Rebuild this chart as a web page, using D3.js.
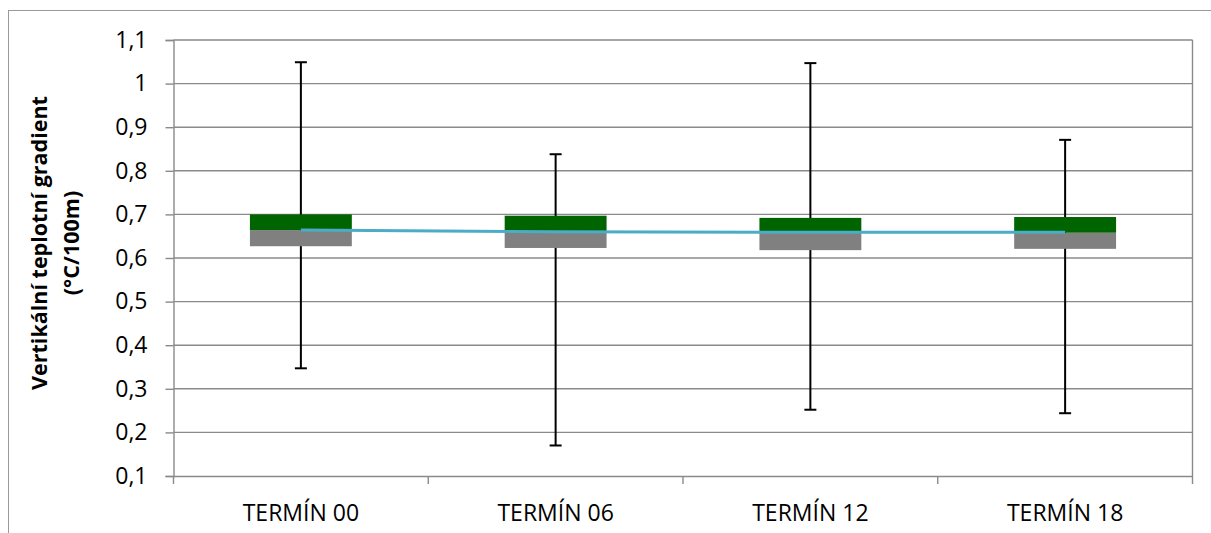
<!DOCTYPE html>
<html>
<head>
<meta charset="utf-8">
<script src="https://cdn.jsdelivr.net/npm/d3@7"></script>
<style>
  html, body { margin: 0; padding: 0; background: #fff; }
  svg { display: block; font-family: 'Open Sans', sans-serif; }
</style>
</head>
<body>
<div id="chart"></div>
<script>
(() => {
'use strict';

// box plot per observation term: min, Q1, median, Q3, max, mean
const TERMS = ['TERMÍN 00', 'TERMÍN 06', 'TERMÍN 12', 'TERMÍN 18'];
const MINS = [0.347, 0.170, 0.252, 0.244];
const Q1S = [0.627, 0.623, 0.618, 0.621];
const MEDIANS = [0.664, 0.661, 0.658, 0.658];
const Q3S = [0.700, 0.697, 0.692, 0.694];
const MAXS = [1.049, 0.838, 1.047, 0.871];
const MEANS = [0.664, 0.660, 0.659, 0.659];
const Y_TICKS = [0.1, 0.2, 0.3, 0.4, 0.5, 0.6, 0.7, 0.8, 0.9, 1.0, 1.1];
const Y_TITLE = ['Vertikální teplotní gradient', '(°C/100m)'];

const WIDTH = 1211;
const HEIGHT = 533;
const PLOT = { left: 173.5, right: 1192.5, top: 40, bottom: 476 };
const GRID = '#8a8a8a';
const BOX_LOW = '#808080';
const BOX_HIGH = '#006400';
const MEAN_COLOR = '#4bacc6';

const data = TERMS.map((t, i) => ({
  term: t, min: MINS[i], q1: Q1S[i], median: MEDIANS[i], q3: Q3S[i], max: MAXS[i], mean: MEANS[i]
}));

const SVG = d3.select('#chart')
  .append('svg')
  .attr('width', WIDTH)
  .attr('height', HEIGHT);

// outer chart border (cropped on the right and bottom)
SVG.append('rect')
  .attr('x', 8.5)
  .attr('y', 10.5)
  .attr('width', WIDTH + 20)
  .attr('height', HEIGHT + 20)
  .attr('fill', 'none')
  .attr('stroke', '#9a9a9a')
  .attr('stroke-width', 1);

const xScale = d3.scaleBand()
  .domain(TERMS)
  .range([PLOT.left, PLOT.right])
  .paddingInner(0)
  .paddingOuter(0);

const yScale = d3.scaleLinear()
  .domain([0.1, 1.1])
  .range([PLOT.bottom, PLOT.top]);

const fmt = (v) => d3.format('.1~f')(v).replace('.', ',');
const cx = (d) => xScale(d.term) + xScale.bandwidth() / 2;
const boxW = xScale.bandwidth() * 0.4;

// horizontal gridlines
SVG.append('g')
  .selectAll('line')
  .data(Y_TICKS.slice(1))
  .enter()
  .append('line')
    .attr('x1', PLOT.left)
    .attr('x2', PLOT.right)
    .attr('y1', (d) => yScale(d))
    .attr('y2', (d) => yScale(d))
    .attr('stroke', GRID)
    .attr('stroke-width', 1.4);

// right border of plot area
SVG.append('line')
  .attr('x1', PLOT.right)
  .attr('x2', PLOT.right)
  .attr('y1', PLOT.top)
  .attr('y2', PLOT.bottom)
  .attr('stroke', GRID)
  .attr('stroke-width', 1.4);

const yAxis = d3.axisLeft(yScale)
  .tickValues(Y_TICKS)
  .tickFormat(fmt)
  .tickSize(8)
  .tickPadding(18);

const gy = SVG.append('g')
  .attr('id', 'y-axis')
  .attr('transform', `translate(${PLOT.left}, 0)`)
  .call(yAxis);

gy.select('.domain').attr('stroke', GRID).attr('stroke-width', 1.4);
gy.selectAll('.tick line').attr('stroke', GRID).attr('stroke-width', 1.4);
gy.selectAll('.tick text')
  .attr('fill', '#000')
  .style('font-size', '23px')
  .style('font-family', "'Open Sans', sans-serif");

const xAxis = d3.axisBottom(xScale)
  .tickSize(0)
  .tickPadding(29);

const gx = SVG.append('g')
  .attr('id', 'x-axis')
  .attr('transform', `translate(0, ${PLOT.bottom})`)
  .call(xAxis);

gx.select('.domain').attr('stroke', GRID).attr('stroke-width', 1.4);
gx.selectAll('.tick text')
  .attr('fill', '#000')
  .style('font-size', '23px')
  .style('font-family', "'Open Sans', sans-serif");

// category boundary ticks on the x axis
gx.selectAll('.sep')
  .data(d3.range(TERMS.length + 1))
  .enter()
  .append('line')
    .attr('class', 'sep')
    .attr('x1', (i) => PLOT.left + i * xScale.bandwidth())
    .attr('x2', (i) => PLOT.left + i * xScale.bandwidth())
    .attr('y1', 0)
    .attr('y2', 8)
    .attr('stroke', GRID)
    .attr('stroke-width', 1.4);

// whiskers (behind the boxes)
const whisk = SVG.append('g')
  .selectAll('g')
  .data(data)
  .enter()
  .append('g');

whisk.append('line')
  .attr('x1', cx)
  .attr('x2', cx)
  .attr('y1', (d) => yScale(d.max))
  .attr('y2', (d) => yScale(d.min))
  .attr('stroke', '#000')
  .attr('stroke-width', 2);

['max', 'min'].forEach((k) => {
  whisk.append('line')
    .attr('x1', (d) => cx(d) - 6)
    .attr('x2', (d) => cx(d) + 6)
    .attr('y1', (d) => yScale(d[k]))
    .attr('y2', (d) => yScale(d[k]))
    .attr('stroke', '#000')
    .attr('stroke-width', 2);
});

// lower box (Q1 - median) and upper box (median - Q3)
SVG.append('g')
  .selectAll('rect')
  .data(data)
  .enter()
  .append('rect')
    .attr('x', (d) => cx(d) - boxW / 2)
    .attr('width', boxW)
    .attr('y', (d) => yScale(d.median))
    .attr('height', (d) => yScale(d.q1) - yScale(d.median))
    .attr('fill', BOX_LOW);

SVG.append('g')
  .selectAll('rect')
  .data(data)
  .enter()
  .append('rect')
    .attr('x', (d) => cx(d) - boxW / 2)
    .attr('width', boxW)
    .attr('y', (d) => yScale(d.q3))
    .attr('height', (d) => yScale(d.median) - yScale(d.q3))
    .attr('fill', BOX_HIGH);

// mean line
const line = d3.line()
  .x(cx)
  .y((d) => yScale(d.mean));

SVG.append('path')
  .datum(data)
  .attr('d', line)
  .attr('fill', 'none')
  .attr('stroke', MEAN_COLOR)
  .attr('stroke-width', 3);

// y axis title
const title = SVG.append('text')
  .attr('transform', 'translate(47, 243) rotate(-90)')
  .attr('text-anchor', 'middle')
  .style('font-size', '21.5px')
  .style('font-weight', 'bold')
  .attr('fill', '#000');

title.selectAll('tspan')
  .data(Y_TITLE)
  .enter()
  .append('tspan')
    .attr('x', 0)
    .attr('dy', (d, i) => i === 0 ? 0 : 32)
    .text((d) => d);

})();
</script>
</body>
</html>
